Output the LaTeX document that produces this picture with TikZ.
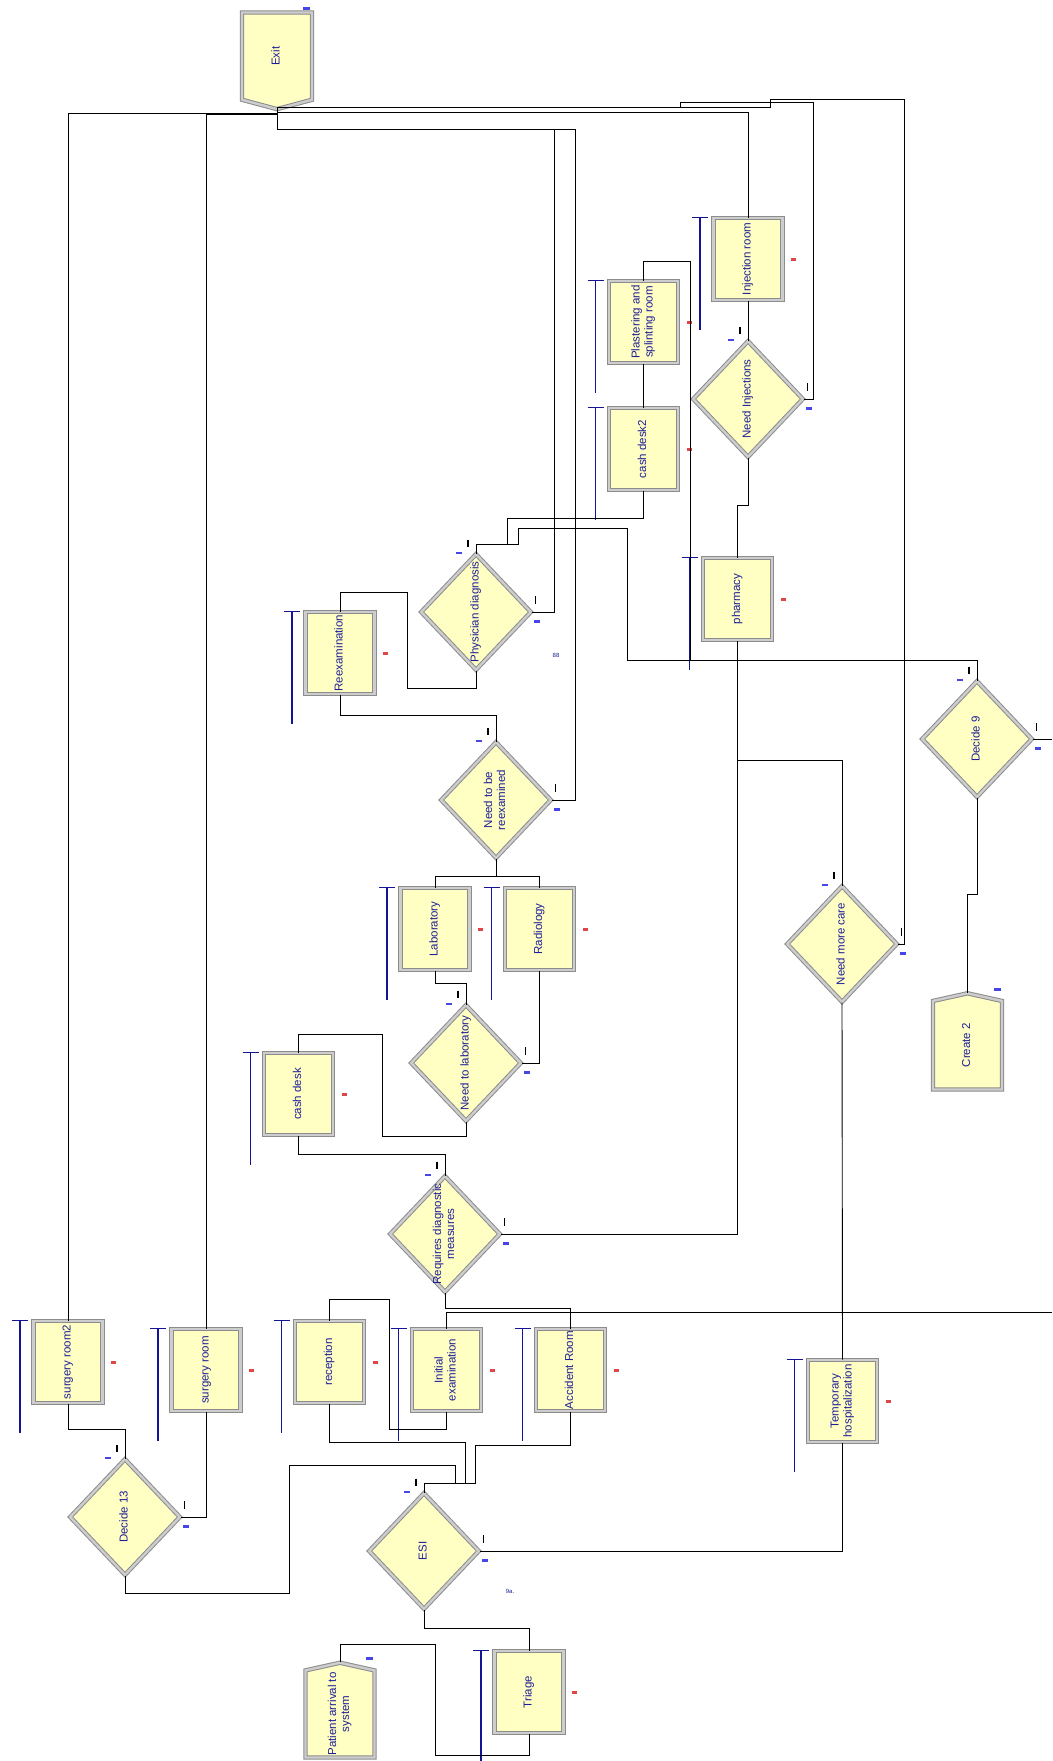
\documentclass[tikz,border=0pt]{standalone}
\usepackage{fontspec}
\setmainfont{Liberation Sans}
\usetikzlibrary{positioning,shapes.geometric,shapes.symbols,calc}
\definecolor{modfill}{RGB}{255,255,196}
\definecolor{modedge}{RGB}{140,140,140}
\definecolor{modband}{RGB}{205,205,205}
\definecolor{modtext}{RGB}{30,30,150}
\definecolor{queuecolor}{RGB}{20,20,150}
\definecolor{markred}{RGB}{225,70,70}
\definecolor{markblue}{RGB}{70,70,230}
\newcommand{\vtext}[1]{\textcolor{modtext}{\fontsize{11.5}{13}\selectfont\rotatebox{90}{\begin{tabular}{@{}c@{}}#1\end{tabular}}}}
\tikzset{
  module/.style={
    draw=modedge,
    double=modband,
    double distance=2.4pt,
    line width=1pt,
    fill=modfill,
    inner sep=0pt
  },
  process/.style={module, rectangle, minimum width=69pt, minimum height=82pt},
  decide/.style={module, diamond, minimum width=110pt, minimum height=116pt},
  create/.style={module, signal, signal to=north, signal pointer angle=155,
    minimum width=69pt, minimum height=90pt},
  dispose/.style={module, signal, signal to=south, signal pointer angle=150,
    minimum width=70pt, minimum height=89pt},
  queue/.style={draw=queuecolor, line width=1.5pt},
  link/.style={draw=black, line width=0.9pt},
  counter/.style={font=\fontsize{6}{6}\selectfont, text=modtext, inner sep=0pt}
}

\begin{document}
\begin{tikzpicture}[x=1pt, y=-1pt]
  \fill[white] (0,0) rectangle (1052,1761);
  \useasboundingbox (0,0) rectangle (1052,1761);

  % Create and dispose
  \node[dispose, anchor=north] (exit) at (277,12) {\vtext{Exit}};
  \node[create, anchor=south] (create2) at (967.5,1090) {\vtext{Create 2}};
  \node[create, anchor=south] (arrival) at (340,1758) {\vtext{Patient arrival to\\system}};

  % Process modules
  \node[process] (injroom) at (748,259) {\vtext{Injection room}};
  \node[process] (plaster) at (643.5,322) {\vtext{Plastering and\\splinting room}};
  \node[process] (cashtwo) at (643.5,449) {\vtext{cash desk2}};
  \node[process] (pharmacy) at (737.5,599) {\vtext{pharmacy}};
  \node[process] (reexam) at (340,653) {\vtext{Reexamination}};
  \node[process] (lab) at (435,929) {\vtext{Laboratory}};
  \node[process] (radio) at (539.5,929) {\vtext{Radiology}};
  \node[process] (cashdesk) at (298.5,1094) {\vtext{cash desk}};
  \node[process] (surgtwo) at (68,1362) {\vtext{surgery room2}};
  \node[process] (surg) at (206,1370) {\vtext{surgery room}};
  \node[process] (reception) at (329.5,1362) {\vtext{reception}};
  \node[process] (initexam) at (446.5,1370) {\vtext{Initial\\examination}};
  \node[process] (accident) at (570.5,1370) {\vtext{Accident Room}};
  \node[process] (temphosp) at (842.5,1401) {\vtext{Temporary\\hospitalization}};
  \node[process] (triage) at (529,1692) {\vtext{Triage}};

  % Decide modules
  \node[decide, label={center:\vtext{Need Injections}}] (needinj) at (748,399) {};
  \node[decide, label={center:\vtext{Physician diagnosis}}] (physdiag) at (476,612) {};
  \node[decide, label={center:\vtext{Need to be\\reexamined}}] (reexamq) at (496,800) {};
  \node[decide, label={center:\vtext{Need to laboratory}}] (labq) at (466,1063) {};
  \node[decide, label={center:\vtext{Requires diagnostic\\measures}}] (diagq) at (445,1234) {};
  \node[decide, label={center:\vtext{Decide 9}}] (decide9) at (977,739) {};
  \node[decide, label={center:\vtext{Need more care}}] (morecare) at (842,944) {};
  \node[decide, label={center:\vtext{Decide 13}}] (decide13) at (125,1517) {};
  \node[decide, label={center:\vtext{ESI}}] (esi) at (424,1551) {};

  \node[counter] (ctra) at (556,655) {88};
  \node[counter] (ctrb) at (510,1591) {9a.};

  % Queues and marks
  \foreach \n in {injroom,plaster,cashtwo,pharmacy,reexam,lab,radio,cashdesk,
                  surgtwo,surg,reception,initexam,accident,temphosp,triage} {
    \draw[queue] ($(\n.north west)+(-13,0)$) -- ++(0,112);
    \draw[queue] ($(\n.north west)+(-21,0)$) -- ++(16,0);
    \fill[markred] ($(\n.east)+(8,-1)$) rectangle ++(5,2.5);
  }
  \foreach \n in {needinj,physdiag,reexamq,labq,diagq,decide9,morecare,decide13,esi} {
    \draw[line width=1.3pt] ($(\n.north)+(-8,-14)$) -- ++(0,7);
    \fill[markblue] ($(\n.north)+(-20,-2)$) rectangle ++(6,2.5);
    \draw[line width=1.3pt] ($(\n.east)+(4,-16)$) -- ++(0,8);
    \fill[markblue] ($(\n.east)+(2,8)$) rectangle ++(6,2.5);
  }
  \foreach \n in {exit,create2,arrival} {
    \fill[markblue] ($(\n.north)+(26,-5)$) rectangle ++(7,3);
  }

  % Bends and free ends
  \coordinate (topa) at (770,99);
  \coordinate (topb) at (680,102);
  \coordinate (bendd) at (627,660);
  \coordinate (bende) at (518,528);
  \coordinate (bendf) at (690,660);
  \coordinate (bendg) at (507,544);
  \coordinate (bendh) at (407,592);
  \coordinate (bendi) at (382,1034);
  \coordinate (bendj) at (389,1299);
  \coordinate (bendk) at (289,1465);
  \coordinate (bendl) at (435,1755);
  \coordinate (esijoin) at (426,1483);
  \coordinate (edged) at (1052,739);
  \coordinate (edger) at (1052,1312);

  % Connections to Exit
  \draw[link] (surgtwo.north) |- ($(exit.south)+(0,4)$) -- (exit.south);
  \draw[link] (surg.north) |- ($(exit.south)+(0,5)$) -- (exit.south);
  \draw[link] (injroom.north) |- ($(exit.south)+(0,3)$) -- (exit.south);
  \draw[link] (needinj.east) -- ++(10,0) |- (topb) -- ++(0,5) -| (exit.south);
  \draw[link] (morecare.east) -- ++(7,0) |- (topa) -- ++(0,8) -| (exit.south);
  \draw[link] (physdiag.east) -- ++(23,0) |- ($(exit.south)+(0,20)$) -- (exit.south);
  \draw[link] (reexamq.east) -- ++(24,0) |- ($(exit.south)+(0,20)$);

  % Upper right
  \draw[link] (injroom.south) -- (needinj.north);
  \draw[link] (needinj.south) -- ++(0,48) -| (pharmacy.north);
  \draw[link] (cashtwo.north) -- (plaster.south);
  \draw[link] (plaster.north) -- ++(0,-19) -| (bendf);
  \draw[link] (decide9.north) |- (bendd) |- (bende) -- ++(0,16) -| (physdiag.north);
  \draw[link] (cashtwo.south) -- ++(0,28) -| (bendg) -| (physdiag.north);
  \draw[link] (diagq.east) -| (pharmacy.south);
  \draw[link] (morecare.north) |- ($(pharmacy.south)+(0,120)$);
  \draw[link] (morecare.south) -- (temphosp.north);
  \draw[link] (esi.east) -| (temphosp.south);
  \draw[link] (decide9.south) -- ++(0,97) -| (create2.north);
  \draw[link] (decide9.east) -- (edged);

  % Middle
  \draw[link] (physdiag.south) -- ++(0,18) -| (bendh) -| (reexam.north);
  \draw[link] (reexam.south) -- ++(0,21) -| (reexamq.north);
  \draw[link] (lab.north) -- ++(0,-11) -| (radio.north);
  \draw[link] (reexamq.south) |- ($(lab.north)+(0,-11)$);
  \draw[link] (lab.south) -- ++(0,13) -| (labq.north);
  \draw[link] (labq.east) -| (radio.south);
  \draw[link] (labq.south) -- ++(0,15) -| (bendi) -| (cashdesk.north);
  \draw[link] (cashdesk.south) -- ++(0,19) -| (diagq.north);

  % Lower
  \draw[link] (diagq.south) -- ++(0,16) -| (accident.north);
  \draw[link] (initexam.north) |- (edger);
  \draw[link] (initexam.south) -- ++(0,18) -| (bendj) -| (reception.north);
  \draw[link] (esi.north) |- ($(esijoin)+(50,0)$);
  \draw[link] (reception.south) -- ++(0,39) -| ($(esijoin)+(39,0)$);
  \draw[link] (accident.south) -- ++(0,34) -| ($(esijoin)+(49,0)$);
  \draw[link] (decide13.south) -- ++(0,18) -| (bendk) -| ($(esijoin)+(29,0)$);
  \draw[link] (surgtwo.south) -- ++(0,26) -| (decide13.north);
  \draw[link] (decide13.east) -| (surg.south);
  \draw[link] (esi.south) -- ++(0,19) -| (triage.north);
  \draw[link] (arrival.north) -- ++(0,-18) -| (bendl) -| (triage.south);

\end{tikzpicture}
\end{document}
